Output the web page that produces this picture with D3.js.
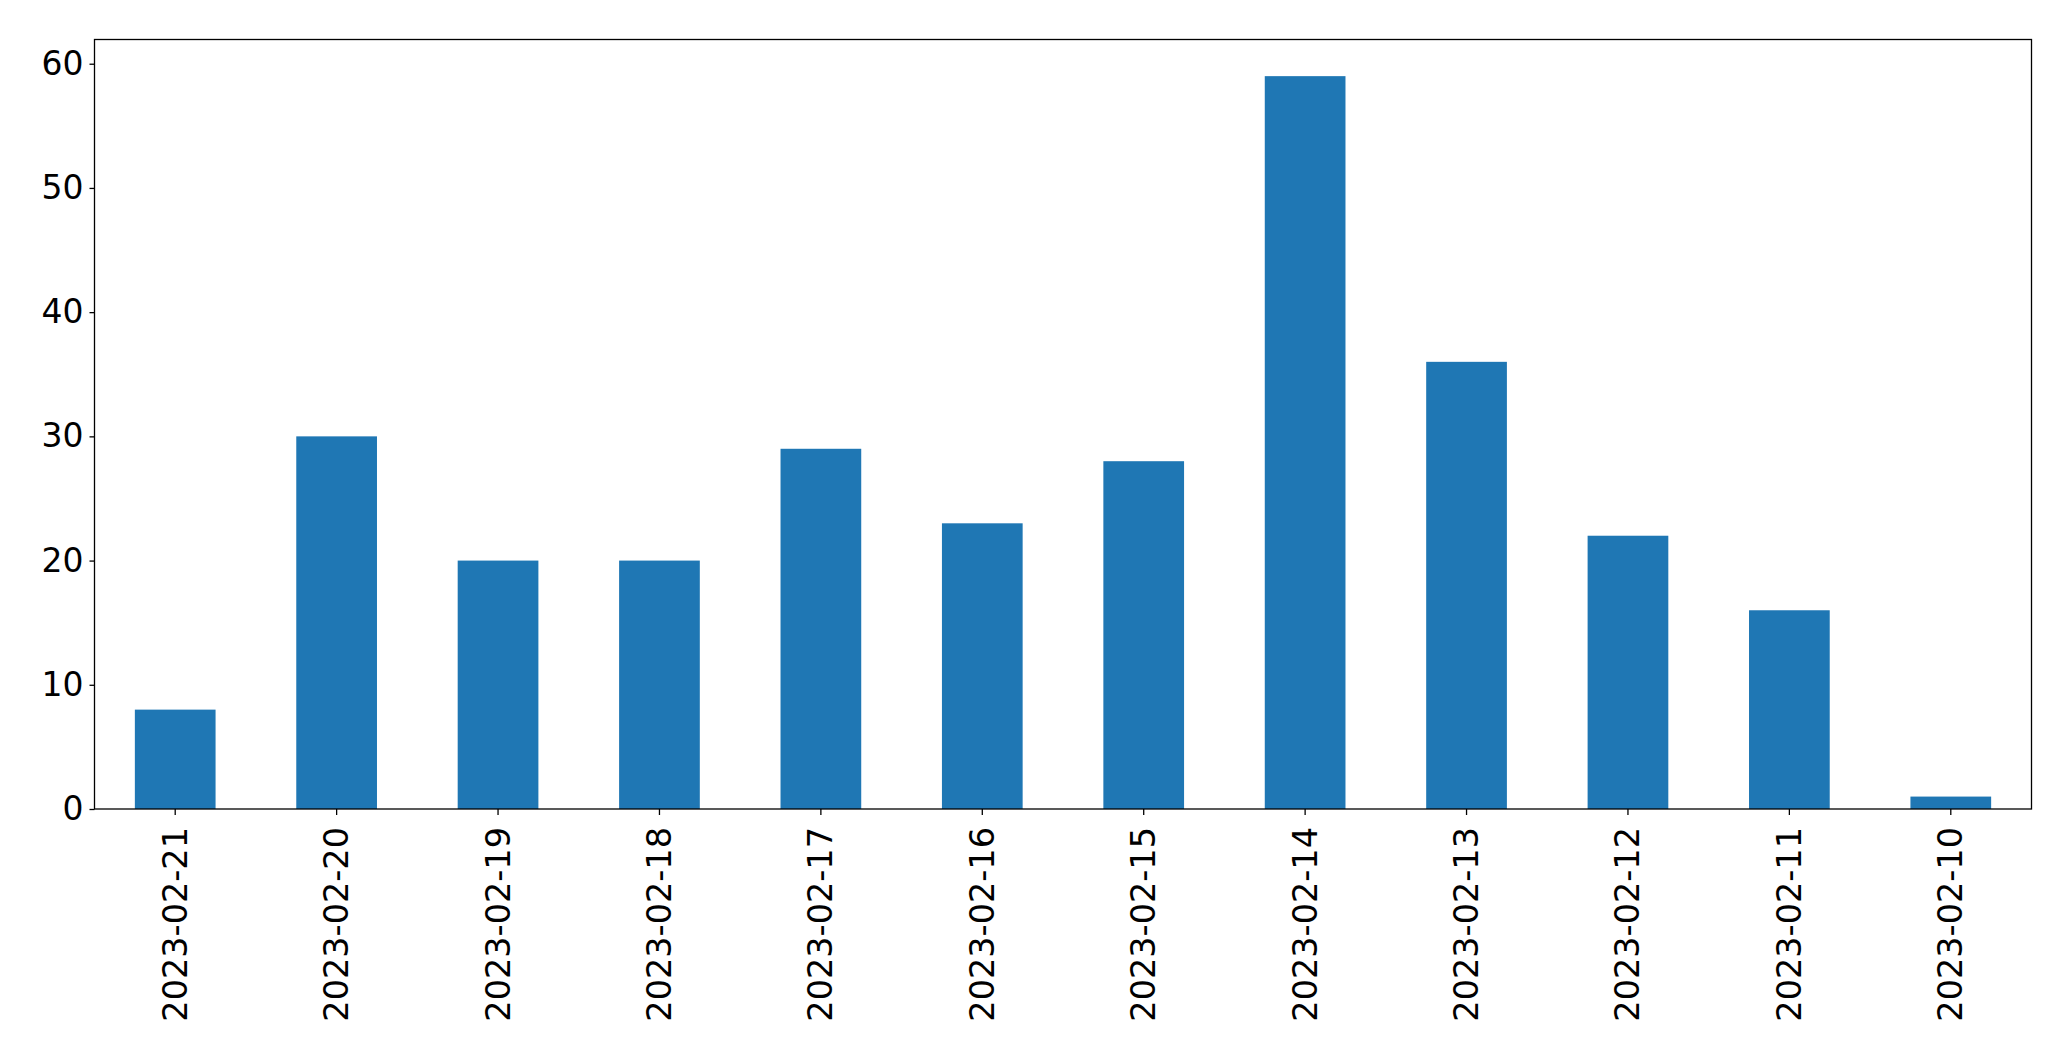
<!DOCTYPE html>
<html>
<head>
<meta charset="utf-8">
<script src="https://cdn.jsdelivr.net/npm/d3@7"></script>
<style>
html,body{margin:0;padding:0;background:#fff;}
svg{display:block;}
</style>
</head>
<body>
<script>
const categories = ["2023-02-21","2023-02-20","2023-02-19","2023-02-18","2023-02-17","2023-02-16","2023-02-15","2023-02-14","2023-02-13","2023-02-12","2023-02-11","2023-02-10"];
const values = [8, 30, 20, 20, 29, 23, 28, 59, 36, 22, 16, 1];
const yTicks = [0, 10, 20, 30, 40, 50, 60];

const W = 2071, H = 1061;
const mLeft = 94.5, mRight = 2031.5, mTop = 39.5, mBottom = 809;

const svg = d3.select("body").append("svg").attr("width", W).attr("height", H);

const x = d3.scaleBand().domain(categories).range([mLeft, mRight]).paddingInner(0.5).paddingOuter(0.25);
const y = d3.scaleLinear().domain([0, d3.max(values) * 1.05]).range([mBottom, mTop]);

svg.append("g").selectAll("rect").data(values).join("rect")
  .attr("x", (d, i) => x(categories[i]))
  .attr("width", x.bandwidth())
  .attr("y", d => y(d))
  .attr("height", d => y(0) - y(d))
  .attr("fill", "#1f77b4");

const font = "'DejaVu Sans', sans-serif";

const yAxis = svg.append("g").attr("transform", `translate(${mLeft},0)`)
  .call(d3.axisLeft(y).tickValues(yTicks).tickSize(5).tickPadding(6).tickFormat(d3.format("d")));
yAxis.select(".domain").remove();
yAxis.selectAll("line").attr("stroke", "#000").attr("stroke-width", 1.3);
yAxis.selectAll("text").attr("font-family", font).attr("font-size", 33).attr("fill", "#000");

const xAxis = svg.append("g").attr("transform", `translate(0,${mBottom})`)
  .call(d3.axisBottom(x).tickSize(6).tickPadding(0));
xAxis.select(".domain").remove();
xAxis.selectAll("line").attr("stroke", "#000").attr("stroke-width", 1.3);
xAxis.selectAll("text")
  .attr("font-family", font).attr("font-size", 33.5).attr("fill", "#000")
  .attr("text-anchor", "end")
  .attr("dy", null)
  .attr("y", 0)
  .attr("dominant-baseline", "central")
  .attr("transform", "translate(0,18) rotate(-90)");

svg.append("rect")
  .attr("x", mLeft).attr("y", mTop)
  .attr("width", mRight - mLeft).attr("height", mBottom - mTop)
  .attr("fill", "none").attr("stroke", "#000").attr("stroke-width", 1.3);
</script>
</body>
</html>
